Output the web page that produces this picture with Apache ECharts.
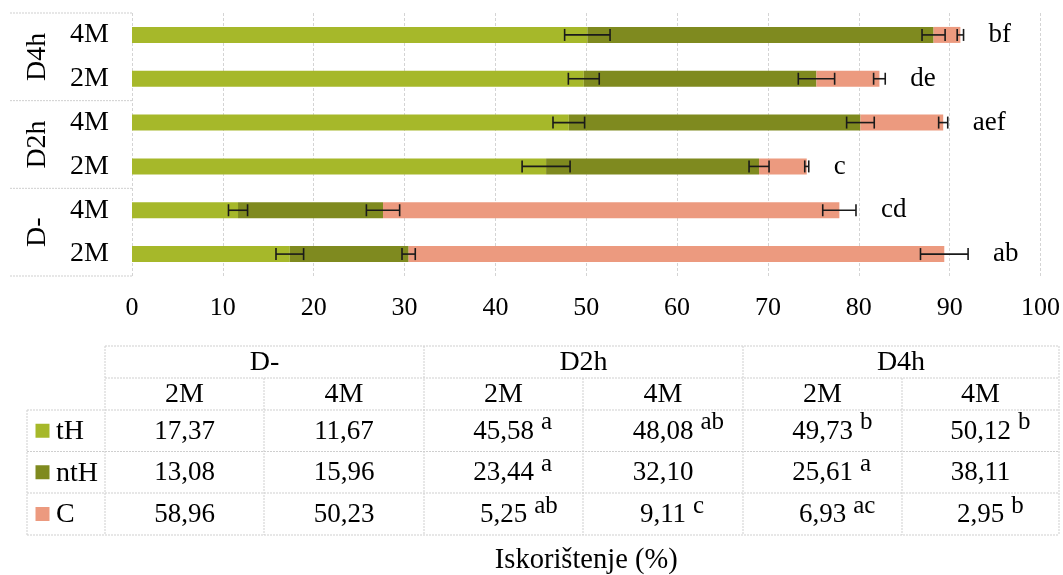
<!DOCTYPE html>
<html>
<head>
<meta charset="utf-8">
<script src="https://cdn.jsdelivr.net/npm/echarts@6/dist/echarts.min.js"></script>
<style>
html, body { margin: 0; padding: 0; background: #fff; }
#chart { width: 1063px; height: 575px; }
</style>
</head>
<body>
<div id="chart"></div>
<script>
// categories go bottom -> top: D- 2M, D- 4M, D2h 2M, D2h 4M, D4h 2M, D4h 4M
const groups = ['D-', 'D2h', 'D4h']
const subgroups = ['2M', '4M']
const seriesNames = ['tH', 'ntH', 'C']

const tH = [17.37, 11.67, 45.58, 48.08, 49.73, 50.12]
const ntH = [13.08, 15.96, 23.44, 32.10, 25.61, 38.11]
const C = [58.96, 50.23, 5.25, 9.11, 6.93, 2.95]

// error bars (half width, %)
const tHErr = [1.52, 1.05, 2.64, 1.74, 1.70, 2.50]
const ntHErr = [0.73, 1.83, 1.10, 1.52, 2.00, 1.27]
const CErr = [2.62, 1.83, 0.22, 0.50, 0.64, 0.35]

// significance letters
const tHSig = ['', '', 'a', 'ab', 'b', 'b']
const ntHSig = ['', '', 'a', '', 'a', '']
const CSig = ['', '', 'ab', 'c', 'ac', 'b']
const totalSig = ['ab', 'cd', 'c', 'aef', 'de', 'bf']

const xMin = 0
const xMax = 100
const xInterval = 10
const xTitle = 'Iskorištenje (%)'

const colors = ['#a6b82a', '#7f8a1f', '#ec9a7f']
const FONT = '"Liberation Serif", "Times New Roman", serif'

const categories = groups.flatMap(g => subgroups.map(s => g + ' ' + s))
const values = [tH, ntH, C]
const errs = [tHErr, ntHErr, CErr]
const sigs = [tHSig, ntHSig, CSig]

// cumulative ends of each segment
const ends = values.map((arr, k) =>
  arr.map((v, i) => values.slice(0, k + 1).reduce((s, a) => s + a[i], 0))
)

const chartInstance = echarts.init(document.getElementById('chart'))

const errorRender = (params, api) => {
  const x = api.value(0)
  const y = api.value(1)
  const e = api.value(2)
  const p0 = api.coord([x - e, y])
  const p1 = api.coord([x + e, y])
  const h = 6
  const st = { stroke: '#1a1a1a', lineWidth: 1.6 }
  return {
    type: 'group',
    children: [
      { type: 'line', shape: { x1: p0[0], y1: p0[1], x2: p1[0], y2: p1[1] }, style: st },
      { type: 'line', shape: { x1: p0[0], y1: p0[1] - h, x2: p0[0], y2: p0[1] + h }, style: st },
      { type: 'line', shape: { x1: p1[0], y1: p1[1] - h, x2: p1[0], y2: p1[1] + h }, style: st }
    ]
  }
}

const barSeries = seriesNames.map((name, k) => ({
  name: name,
  type: 'bar',
  stack: 'total',
  barWidth: 16,
  itemStyle: { color: colors[k] },
  data: values[k]
}))

const errSeries = seriesNames.map((name, k) => ({
  name: name + ' err',
  type: 'custom',
  renderItem: errorRender,
  encode: { x: 0, y: 1 },
  z: 5,
  data: ends[k].map((v, i) => [v, i, errs[k][i]])
}))

const letterSeries = {
  type: 'custom',
  z: 5,
  encode: { x: 0, y: 1 },
  renderItem: (params, api) => {
    const p = api.coord([api.value(0), api.value(1)])
    return {
      type: 'text',
      x: p[0] + 25,
      y: p[1],
      style: {
        text: totalSig[params.dataIndex],
        font: '27px ' + FONT,
        fill: '#000',
        verticalAlign: 'middle',
        align: 'left'
      }
    }
  },
  data: ends[2].map((v, i) => [v + CErr[i], i])
}

const option = {
  animation: false,
  textStyle: { fontFamily: FONT },
  grid: { left: 132, right: 22, top: 13, bottom: 299 },
  xAxis: {
    type: 'value',
    min: xMin,
    max: xMax,
    interval: xInterval,
    axisLine: { show: false },
    axisTick: { show: false },
    axisLabel: { fontSize: 26, color: '#000', margin: 19, fontFamily: FONT },
    splitLine: { show: true, lineStyle: { color: '#d4d4d4', type: [3, 2], width: 1 } }
  },
  yAxis: {
    type: 'category',
    data: categories,
    axisLine: { show: false },
    axisTick: { show: false },
    axisLabel: {
      fontSize: 28,
      color: '#000',
      margin: 23,
      fontFamily: FONT,
      formatter: v => v.split(' ')[1]
    }
  },
  series: [...barSeries, ...errSeries, letterSeries]
}

chartInstance.setOption(option)

// ---- group labels on the left, data table and axis title (graphic) ----
const fmt = v => v.toFixed(2).replace('.', ',')
const measure = (() => {
  const ctx = document.createElement('canvas').getContext('2d')
  return (txt, size) => {
    ctx.font = size + 'px ' + FONT
    return ctx.measureText(txt).width
  }
})()

const lineStyle = { stroke: '#cfcfcf', lineWidth: 1, lineDash: [2, 1] }
const hLine = (x1, x2, y) => ({ type: 'line', shape: { x1, y1: y, x2, y2: y }, style: lineStyle, silent: true })
const vLine = (x, y1, y2) => ({ type: 'line', shape: { x1: x, y1, x2: x, y2 }, style: lineStyle, silent: true })
const txt = (x, y, text, size, opts) => ({
  type: 'text', x, y, silent: true,
  style: Object.assign({ text, font: size + 'px ' + FONT, fill: '#000', align: 'center', verticalAlign: 'middle' }, opts || {})
})

const elements = []

// left group boxes
const catY = categories.map((c, i) => chartInstance.convertToPixel({ yAxisIndex: 0 }, i))
const band = Math.abs(catY[0] - catY[1])
const plotLeft = chartInstance.convertToPixel({ xAxisIndex: 0 }, xMin)
groups.forEach((g, gi) => {
  const cy = (catY[gi * 2] + catY[gi * 2 + 1]) / 2
  const label = txt(38, cy, g, 28)
  label.rotation = Math.PI / 2
  elements.push(label)
  elements.push(hLine(10, plotLeft, cy - band))
  if (gi === 0) elements.push(hLine(10, plotLeft, cy + band))
})

// table
const colX = [105, 264, 424, 583, 743, 902, 1059]
const rowY = [346, 378, 410, 451.5, 493, 535]
const tableLeft = 27

elements.push(hLine(colX[0], colX[6], rowY[0]))
elements.push(hLine(colX[0], colX[6], rowY[1]))
for (let r = 2; r < rowY.length; r++) elements.push(hLine(tableLeft, colX[6], rowY[r]))
elements.push(vLine(tableLeft, rowY[2], rowY[5]))
colX.forEach((x, c) => {
  const top = (c % 2 === 0) ? rowY[0] : rowY[1]
  elements.push(vLine(x, top, rowY[5]))
})

groups.forEach((g, gi) => {
  elements.push(txt((colX[gi * 2] + colX[gi * 2 + 2]) / 2, (rowY[0] + rowY[1]) / 2 + 1, g, 28))
})
categories.forEach((c, ci) => {
  elements.push(txt((colX[ci] + colX[ci + 1]) / 2, (rowY[1] + rowY[2]) / 2 + 1, c.split(' ')[1], 28))
})

seriesNames.forEach((name, k) => {
  const cy = (rowY[k + 2] + rowY[k + 3]) / 2
  elements.push({ type: 'rect', shape: { x: 35.5, y: cy - 7, width: 14, height: 14 }, style: { fill: colors[k] }, silent: true })
  elements.push(txt(56, cy + 1, name, 28, { align: 'left' }))
  values[k].forEach((v, ci) => {
    const cx = (colX[ci] + colX[ci + 1]) / 2
    const s = fmt(v)
    elements.push(txt(cx, cy + 1, s, 27))
    if (sigs[k][ci]) {
      elements.push(txt(cx + measure(s, 27) / 2 + 7, cy - 8, sigs[k][ci], 25, { align: 'left' }))
    }
  })
})

// axis title
const plotRight = chartInstance.convertToPixel({ xAxisIndex: 0 }, xMax)
elements.push(txt((plotLeft + plotRight) / 2, 561, xTitle, 28.5))

chartInstance.setOption({ graphic: { elements } })
</script>
</body>
</html>
